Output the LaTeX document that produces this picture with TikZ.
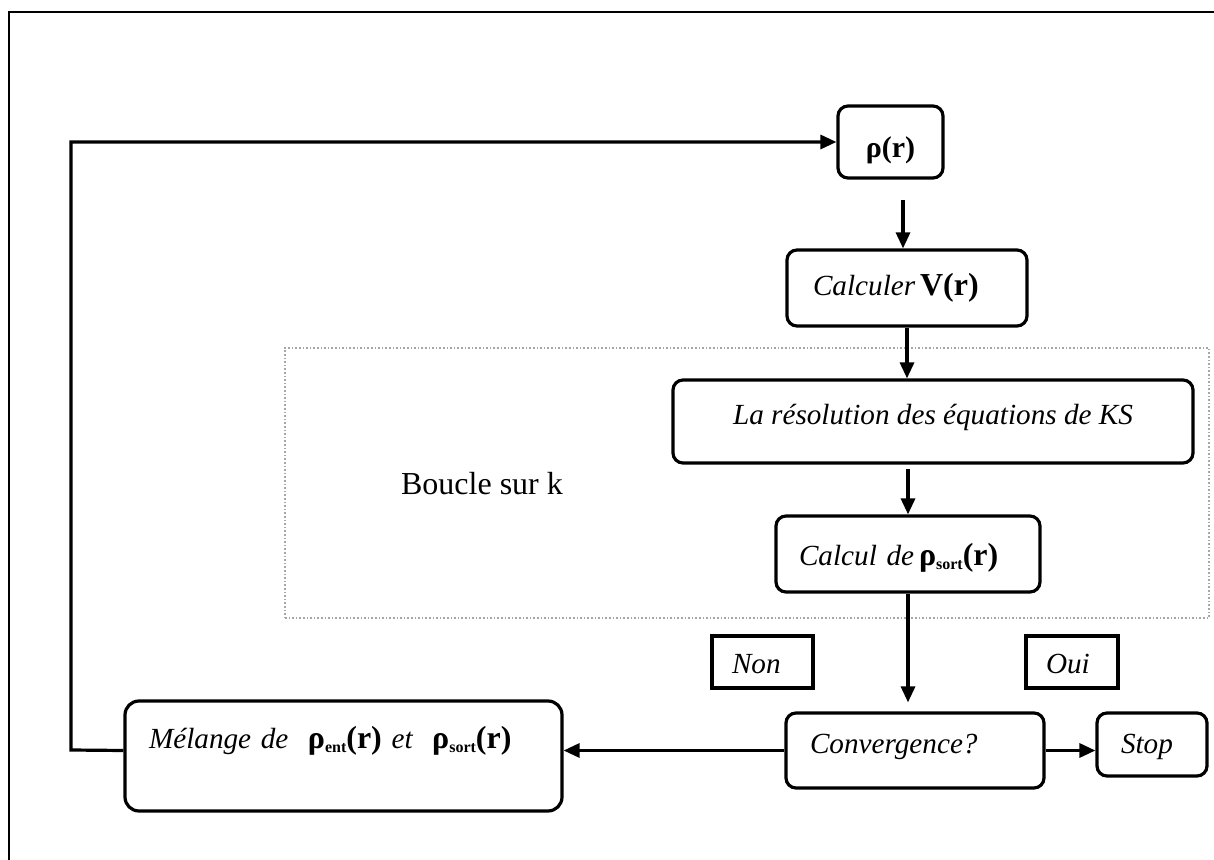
\documentclass[tikz,border=0pt]{standalone}
\usepackage{fontspec}
\setmainfont{Liberation Serif}
\usetikzlibrary{arrows.meta,calc}
\newcommand{\rsub}[1]{{\upshape\bfseries\fontsize{16}{17}\selectfont ρ}\raisebox{-0.35ex}{\upshape\bfseries\fontsize{8}{9}\selectfont #1}}
\newcommand{\br}{{\upshape\bfseries\fontsize{16}{17}\selectfont (r)}}
\begin{document}
\begin{tikzpicture}[x=0.5pt,y=-0.5pt,
  box/.style={draw, line width=1.6pt, rounded corners=5pt, inner sep=0pt, fill=white,
    font=\itshape\fontsize{14.6}{17}\selectfont},
  tag/.style={draw, line width=1.6pt, inner sep=0pt, fill=white,
    font=\itshape\fontsize{14.6}{17}\selectfont},
  arr/.style={line width=1.6pt, -{Triangle[length=8pt,width=7pt]}},
  kframe/.style={draw=gray!70, densely dotted, line width=0.8pt, inner sep=0pt}
]
\useasboundingbox (0,0) rectangle (1214,860);
% outer frame (top and left edges visible)
\draw[line width=1.1pt] (9,860) -- (9,12) -- (1214,12);

% loop frame
\node[kframe, minimum width=462pt, minimum height=135pt] (kloop) at (747,483) {};
\node[inner sep=0pt, font=\fontsize{16}{18}\selectfont] (boucle) at (482,484) {Boucle sur k};

% boxes
\node[box, minimum width=52.5pt, minimum height=36pt, text height=18pt, text depth=2pt] (rho) at (890.5,142)
  {\upshape\bfseries\fontsize{15}{17}\selectfont ρ(r)};
\node[box, minimum width=120pt, minimum height=38pt, text width=94pt, align=left, text height=11pt, text depth=3pt] (calcV) at (907,288)
  {Calculer\,{\upshape\bfseries\fontsize{16}{17}\selectfont V(r)}};
\node[box, minimum width=260pt, minimum height=41.5pt, text height=11pt, text depth=7.5pt] (ks) at (933,421.5)
  {La résolution des équations de KS};
\node[box, minimum width=132pt, minimum height=38pt, text width=109pt, align=left, text height=13pt, text depth=2pt] (calc) at (908,554)
  {Calcul de\,\rsub{sort}\br};
\node[box, rounded corners=7pt, minimum width=218.5pt, minimum height=55pt, text width=194.5pt, align=left, text height=11pt, text depth=19pt] (mel) at (343.5,756)
  {Mélange de\ \ \rsub{ent}\br\ et\ \ \rsub{sort}\br};
\node[box, minimum width=129pt, minimum height=37.5pt, text width=105pt, align=left, text height=11pt, text depth=8.5pt] (conv) at (915,750.5)
  {Convergence?};
\node[box, minimum width=55pt, minimum height=31.5pt, text width=31pt, align=left, text height=11pt, text depth=2.5pt] (stop) at (1152,744.5)
  {Stop};
\node[tag, minimum width=50.5pt, minimum height=26pt, text width=30.5pt, align=left, text height=12pt, text depth=1pt] (non) at (762.5,662)
  {Non};
\node[tag, minimum width=46pt, minimum height=26pt, text width=26pt, align=left, text height=12pt, text depth=1pt] (oui) at (1072,662)
  {Oui};

% connectors
\coordinate (lc) at (71,750);
\coordinate (r1) at (903,200);
\draw[arr] (r1) -- (r1 |- calcV.north);
\draw[arr] (calcV.south) -- (calcV.south |- ks.north);
\draw[arr] ([yshift=-2pt]ks.south -| calc.north) -- (calc.north);
\draw[arr] (calc.south) -- ([yshift=4.5pt]calc.south |- conv.north);
\draw[arr] (conv.east) -- (conv.east -| stop.west);
\draw[arr] (conv.west) -- (conv.west -| mel.east);
\draw[arr] (conv.west -| mel.west) -- (lc) |- (rho.west);
\end{tikzpicture}
\end{document}
